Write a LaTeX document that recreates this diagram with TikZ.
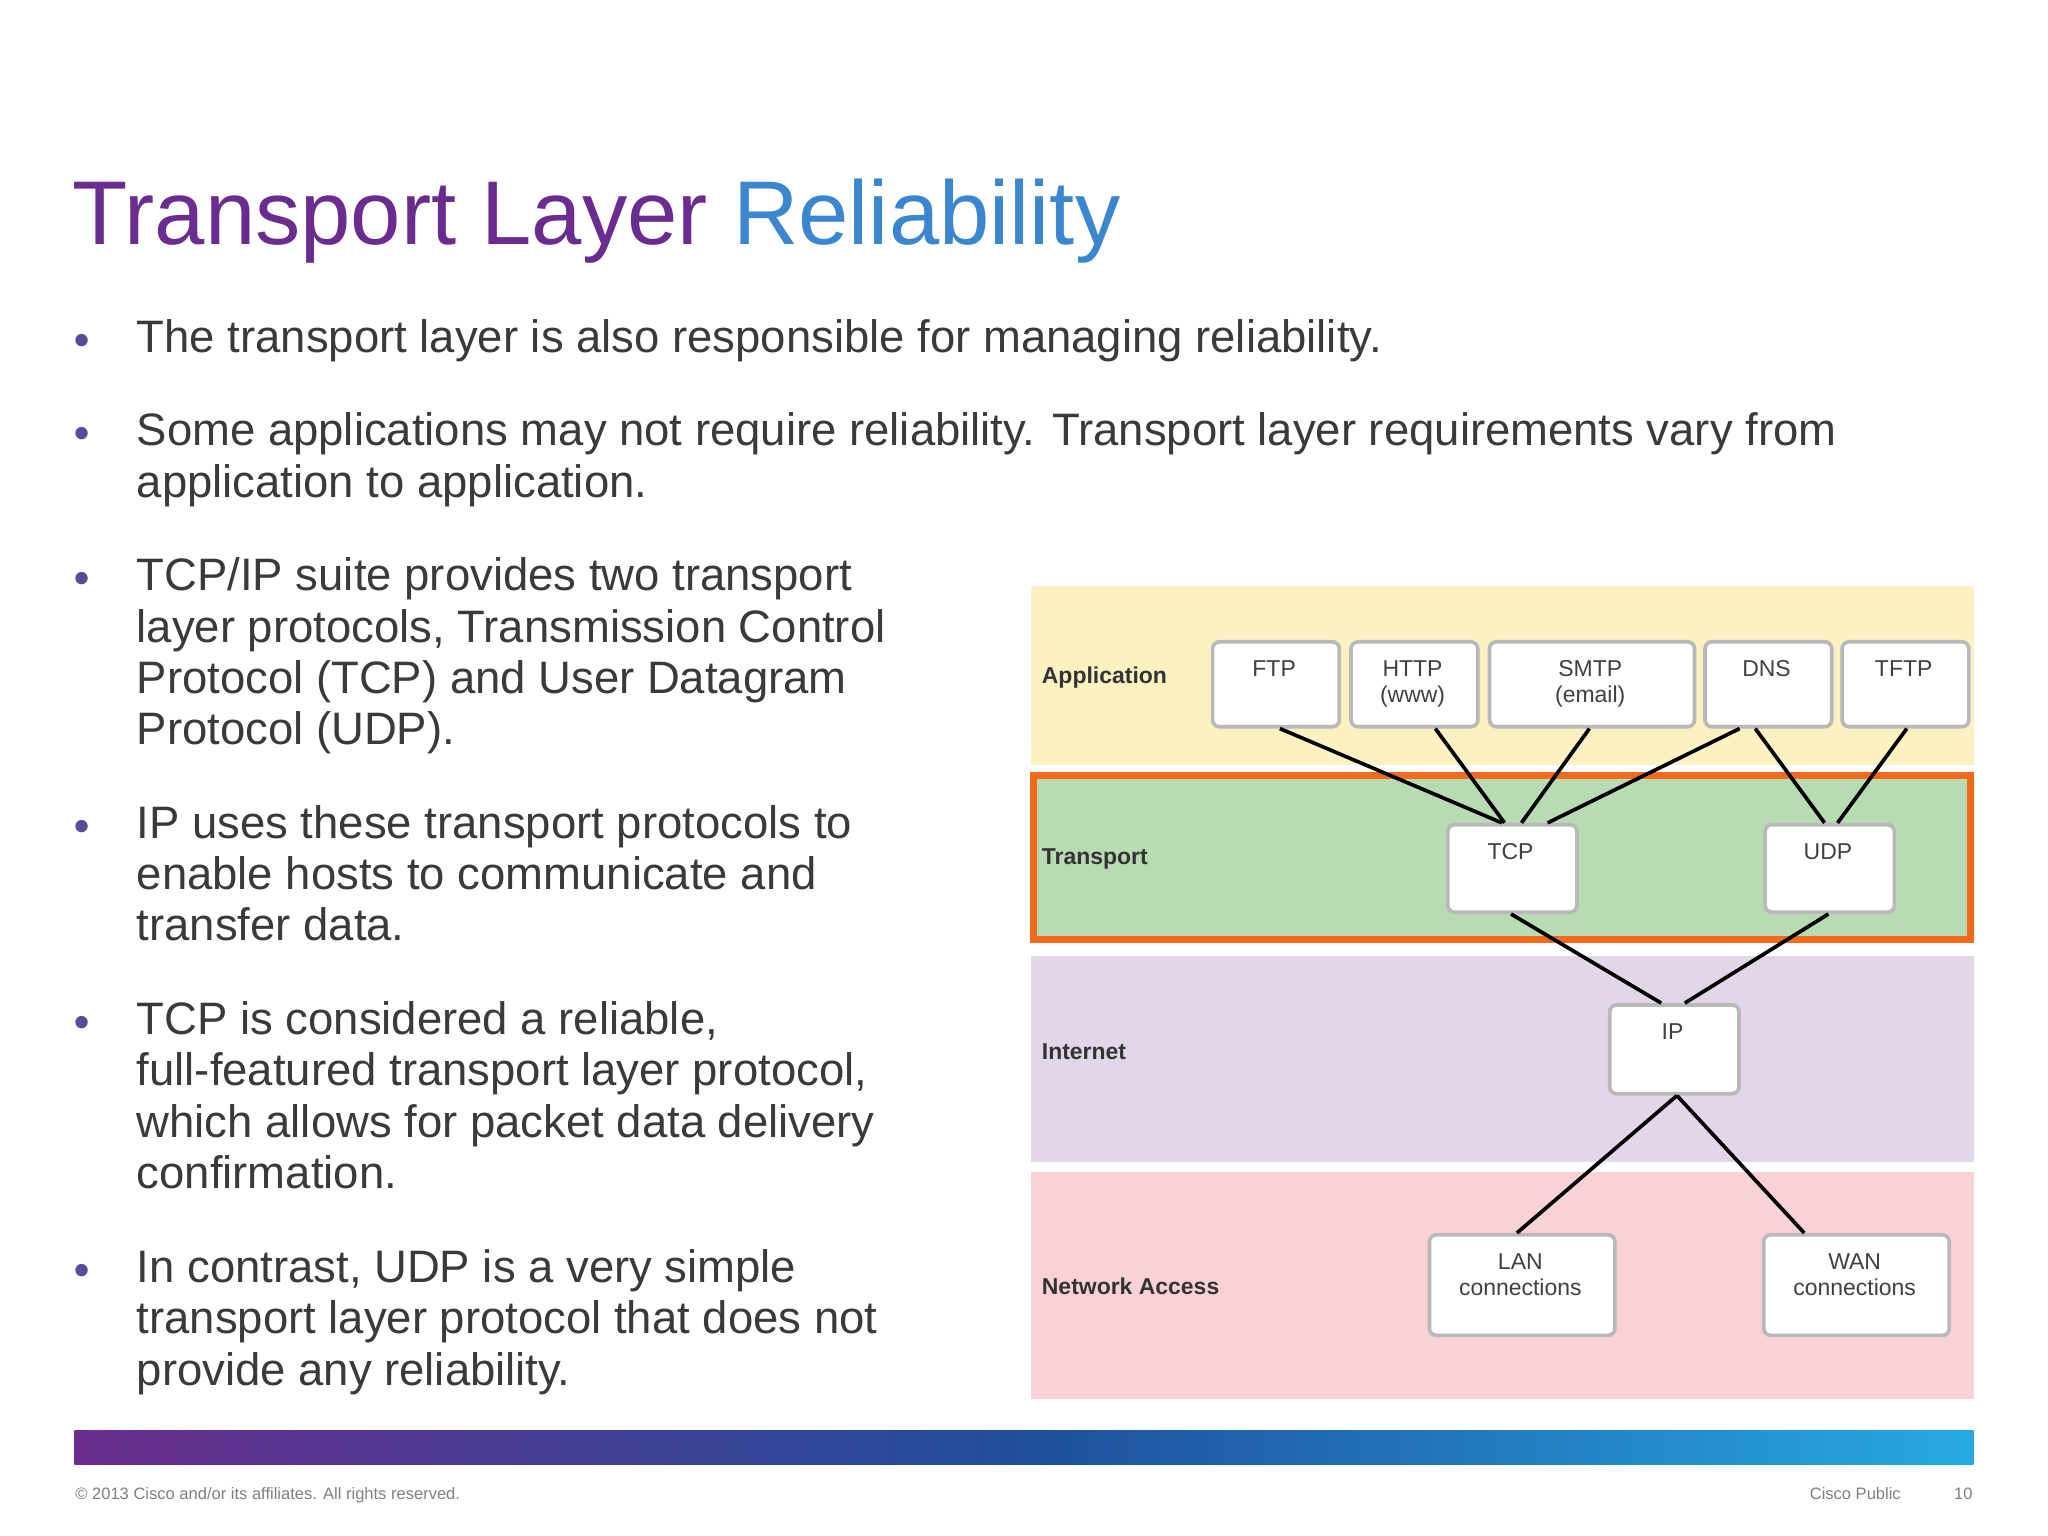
\documentclass[tikz,border=0pt]{standalone}
\usepackage{fontspec}
\setmainfont{Liberation Sans}
\definecolor{c1}{HTML}{6B2D8E}\definecolor{c2}{HTML}{1F4E9A}\definecolor{c3}{HTML}{26A9E2}
\definecolor{txt}{HTML}{3A3A3A}\definecolor{bul}{HTML}{5A4A9A}
\definecolor{app}{HTML}{FCF1C2}\definecolor{tra}{HTML}{B8DBB3}\definecolor{inet}{HTML}{E2D6E9}\definecolor{net}{HTML}{F8D2D7}
\definecolor{org}{HTML}{F26B1D}
\begin{document}
\begin{tikzpicture}[x=0.01cm,y=-0.01cm,
 line/.style={anchor=base west,font=\fontsize{9.9}{11}\selectfont,text=txt,inner sep=0},
 bl/.style={anchor=base west,font=\fontsize{6}{7}\selectfont,text=bul,inner sep=0},
 box/.style={draw=gray!55,line width=0.8pt,fill=white,rounded corners=1.5pt,anchor=north west,inner sep=0},
 lab/.style={font=\bfseries\fontsize{5}{6}\selectfont,text=black!80,anchor=west,inner sep=0},
 nt/.style={font=\fontsize{5}{5.6}\selectfont,text=black!75,align=center,anchor=north,inner sep=0},
 con/.style={line width=0.8pt,black}]
\useasboundingbox (0,0) rectangle (1568,1176);
\fill[white] (0,0) rectangle (1568,1176);
\node[anchor=base west,inner sep=0,font=\fontsize{19.7}{24}\selectfont] (title) at (55,187) {\textcolor[HTML]{6A2C8F}{Transport Layer} \textcolor[HTML]{3A86CF}{Reliability}};
\foreach \y/\t [count=\i] in {
 270/The transport layer is also responsible for managing reliability.,
 341/Some applications may not require reliability. Transport layer requirements vary from,
 381/application to application.,
 452/{TCP/IP suite provides two transport},
 492/{layer protocols, Transmission Control},
 531/Protocol (TCP) and User Datagram,
 570/Protocol (UDP).,
 642/IP uses these transport protocols to,
 681/enable hosts to communicate and,
 720/transfer data.,
 792/{TCP is considered a reliable,},
 831/{full-featured transport layer protocol,},
 871/which allows for packet data delivery,
 910/confirmation.,
 982/{In contrast, UDP is a very simple},
 1021/transport layer protocol that does not,
 1061/provide any reliability.}
 {\node[line] (l\i) at (104,\y) {\t};}
\foreach \y [count=\i] in {266,337,448,638,788,978} {\node[bl] (b\i) at (55,\y) {$\bullet$};}
% layers
\fill[app] (789,449) rectangle (1511,586);
\fill[tra] (789,592) rectangle (1511,721);
\draw[org,line width=1.5pt] (791,594) rectangle (1509,719);
\fill[inet] (789,732) rectangle (1511,890);
\fill[net] (789,897) rectangle (1511,1071);
\node[lab] (la) at (797,519) {Application};
\node[lab] (lt) at (797,658) {Transport};
\node[lab] (li) at (797,805) {Internet};
\node[lab] (ln) at (797,985) {Network Access};
\foreach \n/\x/\y/\w/\h/\t in {ftp/927/490/97/65/FTP, http/1033/490/97/65/{HTTP\\(www)}, smtp/1139/490/157/65/{SMTP\\(email)}, dns/1304/490/97/65/DNS, tftp/1409/490/97/65/TFTP, tcp/1107/630/99/67/TCP, udp/1350/630/99/67/UDP, ip/1231/768/99/68/IP, lan/1093/944/142/77/{LAN\\connections}, wan/1349/944/142/77/{WAN\\connections}}
 {\node[box,minimum width=\w*0.01cm,minimum height=\h*0.01cm] (\n) at (\x,\y) {};
  \node[nt] (\n t) at (\x+\w/2,\y+15) {\t};}
\draw[con] ([xshift=0.03cm]ftp.south) -- ([xshift=-0.08cm]tcp.north);
\draw[con] ([xshift=0.16cm]http.south) -- ([xshift=-0.06cm]tcp.north);
\draw[con] ([xshift=-0.02cm]smtp.south) -- ([xshift=0.07cm]tcp.north);
\draw[con] ([xshift=-0.22cm]dns.south) -- ([xshift=0.27cm]tcp.north);
\draw[con] ([xshift=-0.10cm]dns.south) -- ([xshift=-0.04cm]udp.north);
\draw[con] ([xshift=0.01cm]tftp.south) -- ([xshift=0.06cm]udp.north);
\draw[con] ([xshift=-0.01cm]tcp.south) -- ([xshift=-0.10cm]ip.north);
\draw[con] ([xshift=-0.01cm]udp.south) -- ([xshift=0.08cm]ip.north);
\draw[con] ([xshift=0.02cm]ip.south) -- ([xshift=-0.04cm]lan.north);
\draw[con] ([xshift=0.02cm]ip.south) -- ([xshift=-0.40cm]wan.north);
% bottom bar and footer
\shade[left color=c1,right color=c2] (57,1095) rectangle (785,1121);
\shade[left color=c2,right color=c3] (784,1095) rectangle (1511,1121);
\node[anchor=base west,inner sep=0,font=\fontsize{3.6}{4}\selectfont,text=gray] (copy) at (57,1148) {© 2013 Cisco and/or its affiliates. All rights reserved.};
\node[anchor=base east,inner sep=0,font=\fontsize{3.6}{4}\selectfont,text=gray] (pub) at (1456,1148) {Cisco Public};
\node[anchor=base east,inner sep=0,font=\fontsize{3.6}{4}\selectfont,text=gray] (pg) at (1511,1148) {10};
\end{tikzpicture}
\end{document}
